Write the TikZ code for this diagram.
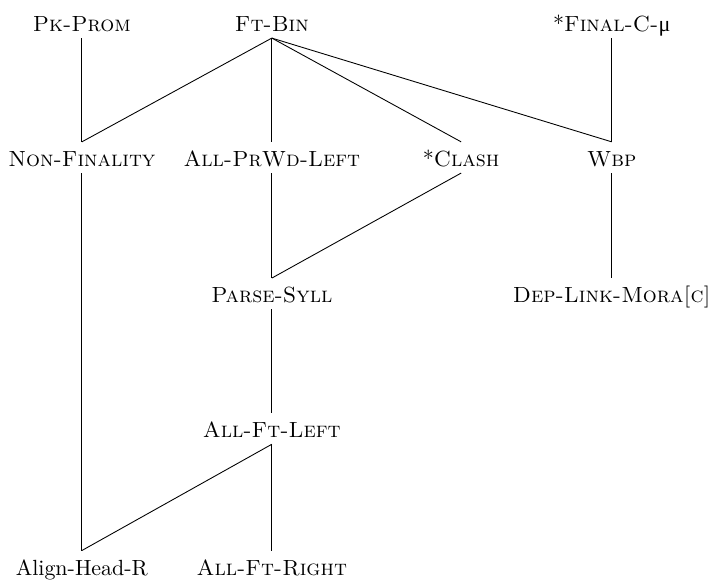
\documentclass[tikz,border=0pt]{standalone}
\usepackage{fontspec}
\newfontfamily\greekfont{Liberation Serif}
\begin{document}
\begin{tikzpicture}[con/.style={inner sep=2.5pt,text height=8.6pt,text depth=0.2pt}]
\useasboundingbox (0,0) rectangle (11.33,-9.28);
\node[con] (pkprom) at (1.31,-0.36) {\textsc{Pk-Prom}};
\node[con] (ftbin) at (4.35,-0.36) {\textsc{Ft-Bin}};
\node[con] (finalc) at (9.79,-0.36) {*\textsc{Final-C-}{\greekfont μ}};
\node[con] (nonfin) at (1.31,-2.52) {\textsc{Non-Finality}};
\node[con] (allprwd) at (4.35,-2.52) {\textsc{All-PrWd-Left}};
\node[con] (clash) at (7.38,-2.52) {*\textsc{Clash}};
\node[con] (wbp) at (9.79,-2.52) {\textsc{Wbp}};
\node[con] (parse) at (4.35,-4.70) {\textsc{Parse-Syll}};
\node[con] (deplink) at (9.79,-4.70) {\textsc{Dep-Link-Mora[c]}};
\node[con] (allftl) at (4.35,-6.86) {\textsc{All-Ft-Left}};
\node[con] (alignhead) at (1.31,-9.06) {Align-Head-R};
\node[con] (allftr) at (4.35,-9.06) {\textsc{All-Ft-Right}};
\draw (pkprom.south) -- (nonfin.north);
\draw (ftbin.south) -- (nonfin.north);
\draw (ftbin.south) -- (allprwd.north);
\draw (ftbin.south) -- (clash.north);
\draw (ftbin.south) -- (wbp.north);
\draw (finalc.south) -- (wbp.north);
\draw (nonfin.south) -- (alignhead.north);
\draw (allprwd.south) -- (parse.north);
\draw (clash.south) -- (parse.north);
\draw (wbp.south) -- (deplink.north);
\draw (parse.south) -- (allftl.north);
\draw (allftl.south) -- (alignhead.north);
\draw (allftl.south) -- (allftr.north);
\end{tikzpicture}
\end{document}
